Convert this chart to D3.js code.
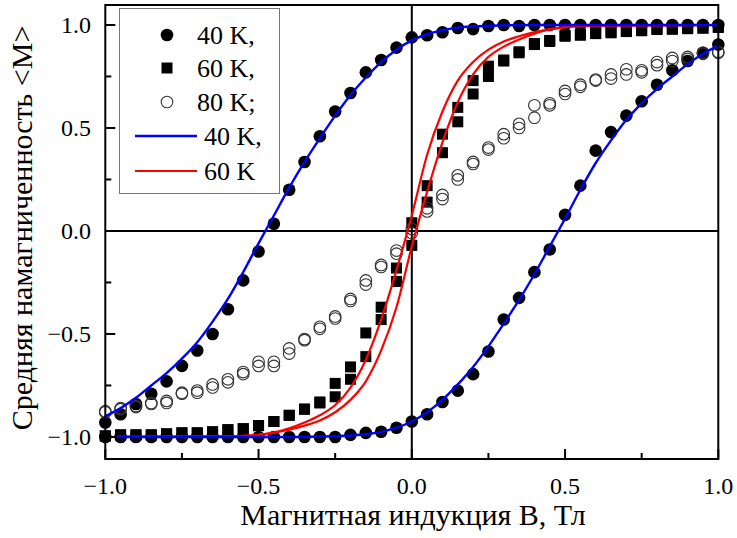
<!DOCTYPE html>
<html><head><meta charset="utf-8">
<script src="https://cdn.jsdelivr.net/npm/d3@7"></script>
<style>body{margin:0;background:#fff}svg{display:block}</style>
</head><body>
<svg id="c" width="737" height="538"></svg>
<script>
// Field values B (Тл) for the measured points
const fieldB = [-1.0,-0.95,-0.9,-0.85,-0.8,-0.75,-0.7,-0.65,-0.6,-0.55,-0.5,-0.45,-0.4,-0.35,-0.3,-0.25,-0.2,-0.15,-0.1,-0.05,0,0.05,0.1,0.15,0.2,0.25,0.3,0.35,0.4,0.45,0.5,0.55,0.6,0.65,0.7,0.75,0.8,0.85,0.9,0.95,1.0];
// 40 K points: descending (upper) and ascending (lower) branches
const m40Down = [-0.93,-0.89,-0.84,-0.79,-0.73,-0.655,-0.58,-0.50,-0.38,-0.24,-0.10,0.035,0.20,0.335,0.46,0.58,0.67,0.77,0.83,0.89,0.94,0.95,0.965,0.985,0.98,0.995,1.0,0.995,1.0,1.0,1.0,1.0,1.0,1.0,1.0,1.0,1.0,1.0,1.0,1.0,1.0];
const m40Up = [-1.0,-1.0,-1.0,-1.0,-1.0,-1.0,-1.0,-1.0,-1.0,-1.0,-1.0,-1.0,-1.0,-1.0,-1.0,-1.0,-0.99,-0.98,-0.975,-0.955,-0.925,-0.89,-0.83,-0.775,-0.695,-0.585,-0.43,-0.325,-0.20,-0.09,0.078,0.22,0.39,0.48,0.56,0.63,0.71,0.78,0.825,0.865,0.905];
// 60 K points
const m60Down = [-0.995,-0.99,-0.99,-0.99,-0.985,-0.98,-0.98,-0.975,-0.965,-0.96,-0.945,-0.925,-0.895,-0.865,-0.83,-0.74,-0.66,-0.495,-0.37,-0.18,0.04,0.22,0.47,0.60,0.73,0.80,0.83,0.87,0.91,0.925,0.95,0.955,0.96,0.965,0.97,0.975,0.98,0.98,0.985,0.985,0.99];
const m60Up = [-0.995,-0.99,-0.99,-0.99,-0.985,-0.98,-0.98,-0.975,-0.965,-0.96,-0.945,-0.925,-0.895,-0.865,-0.835,-0.805,-0.72,-0.61,-0.43,-0.245,-0.07,0.14,0.38,0.53,0.665,0.75,0.825,0.865,0.905,0.92,0.945,0.95,0.958,0.962,0.968,0.972,0.978,0.98,0.982,0.985,0.988];
// 80 K points
const m80Down = [-0.875,-0.86,-0.85,-0.835,-0.825,-0.785,-0.775,-0.745,-0.72,-0.685,-0.635,-0.635,-0.57,-0.525,-0.465,-0.415,-0.33,-0.24,-0.165,-0.095,0.01,0.11,0.175,0.27,0.335,0.405,0.47,0.52,0.61,0.62,0.68,0.71,0.735,0.76,0.785,0.78,0.82,0.84,0.845,0.865,0.87];
const m80Up = [-0.88,-0.865,-0.855,-0.84,-0.835,-0.79,-0.785,-0.76,-0.735,-0.695,-0.655,-0.655,-0.595,-0.53,-0.475,-0.425,-0.34,-0.26,-0.175,-0.11,-0.01,0.095,0.155,0.25,0.325,0.395,0.45,0.50,0.55,0.61,0.665,0.70,0.73,0.74,0.76,0.77,0.805,0.825,0.835,0.86,0.865];
// Theoretical curves
const blueDownB = [-1.0,-0.95,-0.9,-0.85,-0.8,-0.75,-0.7,-0.65,-0.6,-0.55,-0.5,-0.45,-0.4,-0.35,-0.3,-0.25,-0.2,-0.15,-0.1,-0.05,0,0.05,0.1,0.15,0.2,0.3,0.4,0.6,0.8,1.0];
const blueDownM = [-0.90,-0.86,-0.81,-0.75,-0.69,-0.62,-0.54,-0.44,-0.33,-0.20,-0.06,0.075,0.21,0.335,0.45,0.56,0.66,0.745,0.82,0.88,0.925,0.955,0.975,0.987,0.993,0.998,1.0,1.0,1.0,1.0];
const blueUpB = [-0.96,-0.8,-0.6,-0.4,-0.3,-0.2,-0.15,-0.1,-0.05,0,0.05,0.1,0.15,0.2,0.25,0.3,0.35,0.4,0.45,0.5,0.55,0.6,0.65,0.7,0.75,0.8,0.85,0.9,0.95,1.0];
const blueUpM = [-1.0,-1.0,-1.0,-1.0,-0.998,-0.993,-0.987,-0.975,-0.955,-0.925,-0.88,-0.82,-0.745,-0.66,-0.56,-0.45,-0.335,-0.21,-0.075,0.06,0.20,0.33,0.44,0.54,0.62,0.69,0.75,0.81,0.86,0.90];
const redDownB = [-0.96,-0.6,-0.5,-0.45,-0.4,-0.35,-0.3,-0.25,-0.2,-0.15,-0.1,-0.05,0,0.05,0.1,0.15,0.2,0.25,0.3,0.35,0.4,0.5,0.6,1.0];
const redDownM = [-1.0,-0.998,-0.99,-0.978,-0.958,-0.93,-0.895,-0.845,-0.76,-0.625,-0.43,-0.19,0.075,0.37,0.58,0.73,0.82,0.88,0.92,0.945,0.965,0.99,0.997,1.0];
const redUpB = [-0.96,-0.6,-0.5,-0.4,-0.35,-0.3,-0.25,-0.2,-0.15,-0.1,-0.05,0,0.05,0.1,0.15,0.2,0.25,0.3,0.35,0.4,0.45,0.5,0.6,1.0];
const redUpM = [-1.0,-0.997,-0.99,-0.965,-0.945,-0.92,-0.88,-0.82,-0.73,-0.58,-0.37,-0.075,0.19,0.43,0.625,0.76,0.845,0.895,0.93,0.958,0.978,0.99,0.998,1.0];
// Ticks and labels
const xTicksMajor = [-1.0,-0.5,0.0,0.5,1.0];
const xTicksMinor = [-0.75,-0.25,0.25,0.75];
const yTicksMajor = [-1.0,-0.5,0.0,0.5,1.0];
const yTicksMinor = [-0.75,-0.25,0.25,0.75];
const legendLabels = ["40 K,","60 K,","80 K;","40 K,","60 K"];
const xTitle = "Магнитная индукция В, Тл";
const yTitle = "Средняя намагниченность <M>";

const svg = d3.select("#c");
const x = d3.scaleLinear().domain([-1,1]).range([105.3,718.3]);
const y = d3.scaleLinear().domain([-1.107,1.097]).range([459,5]);
const font = "'Liberation Serif','Times New Roman',serif";

// zero lines
svg.append("line").attr("x1",x(0)).attr("x2",x(0)).attr("y1",y.range()[1]).attr("y2",y.range()[0]).attr("stroke","#000").attr("stroke-width",2);
svg.append("line").attr("x1",x(-1)).attr("x2",x(1)).attr("y1",y(0)).attr("y2",y(0)).attr("stroke","#000").attr("stroke-width",2);

const g = svg.append("g");
const pts = (arr) => fieldB.map((b,i)=>[b,arr[i]]);
// 40 K filled circles
[m40Down,m40Up].forEach(arr=>{
  g.selectAll(null).data(pts(arr)).enter().append("circle")
   .attr("cx",d=>x(d[0])).attr("cy",d=>y(d[1])).attr("r",6.3).attr("fill","#000");
});
// 60 K squares
[m60Down,m60Up].forEach(arr=>{
  g.selectAll(null).data(pts(arr)).enter().append("rect")
   .attr("x",d=>x(d[0])-5.5).attr("y",d=>y(d[1])-5.5).attr("width",11).attr("height",11).attr("fill","#000");
});
// 80 K open circles
[m80Down,m80Up].forEach(arr=>{
  g.selectAll(null).data(pts(arr)).enter().append("circle")
   .attr("cx",d=>x(d[0])).attr("cy",d=>y(d[1])).attr("r",5.8).attr("fill","none").attr("stroke","#333").attr("stroke-width",1.1);
});

const line = d3.line().x(d=>x(d[0])).y(d=>y(d[1])).curve(d3.curveMonotoneX);
const mk = (bs,ms)=>bs.map((b,i)=>[b,ms[i]]);
[[redDownB,redDownM],[redUpB,redUpM]].forEach(([b,m])=>{
  svg.append("path").attr("d",line(mk(b,m))).attr("fill","none").attr("stroke","#ff0000").attr("stroke-width",2.2);
});
[[blueDownB,blueDownM],[blueUpB,blueUpM]].forEach(([b,m])=>{
  svg.append("path").attr("d",line(mk(b,m))).attr("fill","none").attr("stroke","#0000ff").attr("stroke-width",2.4);
});

// frame
svg.append("rect").attr("x",x(-1)).attr("y",y.range()[1]).attr("width",x(1)-x(-1)).attr("height",y.range()[0]-y.range()[1])
  .attr("fill","none").attr("stroke","#000").attr("stroke-width",2);

// ticks
const yb = y.range()[0];
xTicksMajor.forEach(t=>{ svg.append("line").attr("x1",x(t)).attr("x2",x(t)).attr("y1",yb).attr("y2",yb-10).attr("stroke","#000").attr("stroke-width",2); });
xTicksMinor.forEach(t=>{ svg.append("line").attr("x1",x(t)).attr("x2",x(t)).attr("y1",yb).attr("y2",yb-6).attr("stroke","#000").attr("stroke-width",2); });
yTicksMajor.forEach(t=>{ svg.append("line").attr("x1",x(-1)).attr("x2",x(-1)+10).attr("y1",y(t)).attr("y2",y(t)).attr("stroke","#000").attr("stroke-width",2); });
yTicksMinor.forEach(t=>{ svg.append("line").attr("x1",x(-1)).attr("x2",x(-1)+6).attr("y1",y(t)).attr("y2",y(t)).attr("stroke","#000").attr("stroke-width",2); });

// tick labels
svg.selectAll(null).data(xTicksMajor).enter().append("text")
  .attr("x",d=>x(d)).attr("y",494).attr("text-anchor","middle")
  .attr("font-family",font).attr("font-size",24).text(d=>d3.format(".1f")(d));
svg.selectAll(null).data(yTicksMajor).enter().append("text")
  .attr("x",91).attr("y",d=>y(d)+8).attr("text-anchor","end")
  .attr("font-family",font).attr("font-size",24).text(d=>d3.format(".1f")(d));

// axis titles
svg.append("text").attr("x",413).attr("y",525).attr("text-anchor","middle")
  .attr("font-family",font).attr("font-size",30).text(xTitle);
svg.append("text").attr("transform","translate(32,228) rotate(-90)").attr("text-anchor","middle")
  .attr("font-family",font).attr("font-size",30).text(yTitle);

// legend
const lg = svg.append("g");
lg.append("rect").attr("x",119.5).attr("y",8.5).attr("width",160).attr("height",185).attr("fill","#fff").attr("stroke","#777").attr("stroke-width",1);
const rowsY = [35,68,102,136,171];
lg.append("circle").attr("cx",167).attr("cy",rowsY[0]).attr("r",6.3).attr("fill","#000");
lg.append("rect").attr("x",167-5.5).attr("y",rowsY[1]-5.5).attr("width",11).attr("height",11).attr("fill","#000");
lg.append("circle").attr("cx",167).attr("cy",rowsY[2]).attr("r",5.8).attr("fill","none").attr("stroke","#333").attr("stroke-width",1.1);
lg.append("line").attr("x1",135).attr("x2",197).attr("y1",rowsY[3]).attr("y2",rowsY[3]).attr("stroke","#0000ff").attr("stroke-width",2.4);
lg.append("line").attr("x1",135).attr("x2",197).attr("y1",rowsY[4]).attr("y2",rowsY[4]).attr("stroke","#ff0000").attr("stroke-width",2.2);
legendLabels.forEach((t,i)=>{
  lg.append("text").attr("x",i<3?197:204).attr("y",rowsY[i]+9).attr("font-family",font).attr("font-size",26).text(t);
});
</script>
</body></html>
